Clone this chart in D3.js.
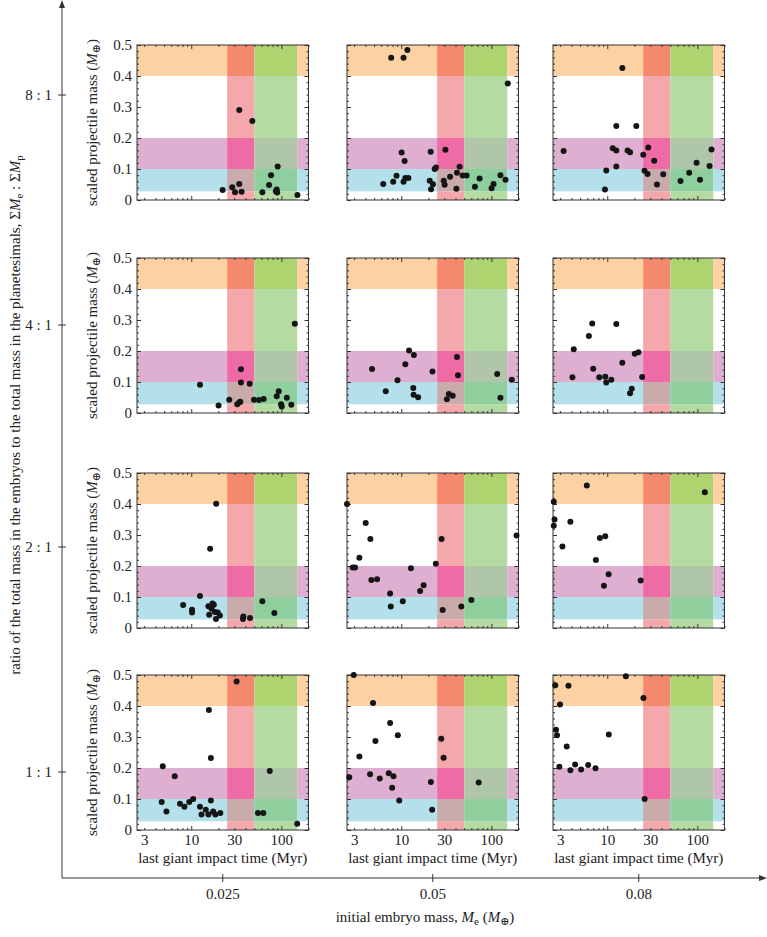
<!DOCTYPE html>
<html><head><meta charset="utf-8">
<script src="https://cdn.jsdelivr.net/npm/d3@7"></script>
<style>
body{margin:0;background:#fff}
svg{display:block}
text{font-family:"Liberation Serif","DejaVu Serif",serif;fill:#222}
</style>
</head><body><svg id="c" width="767" height="937"></svg>
<script>
// ---------- data ----------
const rowLabels = ["8 : 1", "4 : 1", "2 : 1", "1 : 1"];
const colLabels = ["0.025", "0.05", "0.08"];
const xTickLabels = [3, 10, 30, 100];
const xMajorTicks = [10, 100];
const xMinorTicks = [3, 4, 5, 6, 7, 8, 9, 20, 30, 40, 50, 60, 70, 80, 90, 200];
const yTickValues = [0, 0.1, 0.2, 0.3, 0.4, 0.5];
const yMinorTicks = [0.02, 0.04, 0.06, 0.08, 0.12, 0.14, 0.16, 0.18, 0.22, 0.24, 0.26, 0.28, 0.32, 0.34, 0.36, 0.38, 0.42, 0.44, 0.46, 0.48];
// horizontal (projectile mass) bands and vertical (impact time) bands
const hBands = [[0, 0.028, "none"], [0.028, 0.1, "cyan"], [0.1, 0.2, "magenta"], [0.2, 0.4, "none"], [0.4, 0.5, "orange"]];
const vBands = [[2.5, 25, "none"], [25, 50, "red"], [50, 150, "green"], [150, 200, "none"]];
const bandColors = {
  "none|none": null, "none|red": "#f5a8ac", "none|green": "#b4dba2",
  "cyan|none": "#b3e0eb", "cyan|red": "#c9abab", "cyan|green": "#8ecf9d",
  "magenta|none": "#dfafd1", "magenta|red": "#ee6ba6", "magenta|green": "#afc6a8",
  "orange|none": "#fdd1a4", "orange|red": "#f5896e", "orange|green": "#aed46f"
};

// [last giant impact time (Myr), scaled projectile mass]
const p8_025 = [[22.3,0.032],[28.5,0.041],[30.6,0.025],[34.1,0.052],[36.2,0.027],[34.1,0.290],[47.6,0.255],[61.5,0.025],[73,0.048],[76.8,0.080],[91,0.108],[88.7,0.034],[89.9,0.024],[87,0.028],[150.8,0.016]];
const p8_05 = [[7.73,0.459],[10.6,0.459],[11.7,0.484],[152,0.376],[10.1,0.153],[10.9,0.126],[21.2,0.156],[30.9,0.162],[8.86,0.078],[8.14,0.059],[6.31,0.052],[10.6,0.059],[11.1,0.071],[12.0,0.071],[20.7,0.062],[22.5,0.051],[21.4,0.035],[23.5,0.100],[24.3,0.105],[29.6,0.062],[30.3,0.049],[34.8,0.075],[40.9,0.036],[41.5,0.088],[44.4,0.107],[48,0.079],[53.1,0.079],[65.7,0.043],[74,0.069],[100.5,0.038],[105.7,0.052],[126,0.080],[143.5,0.065]];
const p8_08 = [[14.7,0.426],[12.6,0.239],[21.0,0.239],[3.28,0.158],[11.5,0.167],[12.6,0.160],[16.8,0.160],[17.9,0.154],[25.1,0.146],[28.5,0.169],[33.2,0.127],[12.6,0.108],[9.75,0.095],[25.9,0.094],[28,0.084],[41.8,0.083],[35.6,0.050],[9.43,0.034],[65,0.061],[81.1,0.088],[98,0.120],[107,0.065],[136.5,0.110],[143.5,0.163]];
const p4_025 = [[12.5,0.091],[20.1,0.024],[26.4,0.043],[32.4,0.028],[34.1,0.034],[35,0.036],[35.6,0.141],[35.6,0.098],[44.5,0.094],[49.7,0.043],[56.5,0.042],[63.6,0.045],[88.8,0.054],[93.5,0.070],[99.2,0.028],[101,0.021],[115,0.049],[129,0.027],[141,0.288]];
const p4_05 = [[4.74,0.142],[6.73,0.070],[9.08,0.106],[11.1,0.157],[12.2,0.202],[13.8,0.187],[13.6,0.081],[13.7,0.059],[15.4,0.051],[22.2,0.134],[32.1,0.044],[33.8,0.061],[37.2,0.056],[41.5,0.181],[42.6,0.122],[116,0.126],[126,0.049],[168.6,0.107]];
const p4_08 = [[4.25,0.206],[4.11,0.115],[6.25,0.248],[6.81,0.289],[6.98,0.143],[8.15,0.115],[9.5,0.117],[9.75,0.098],[11.1,0.107],[12.6,0.287],[14.7,0.162],[17.9,0.064],[18.7,0.078],[20.2,0.191],[22.2,0.196],[24.4,0.116]];
const p2_025 = [[8.13,0.074],[10.2,0.059],[10.2,0.050],[12.5,0.103],[15.5,0.070],[15.8,0.043],[16.2,0.256],[16.8,0.062],[17.2,0.079],[17.8,0.075],[18.9,0.401],[18.3,0.052],[18.8,0.029],[19.7,0.050],[20.8,0.040],[37.8,0.037],[37.5,0.029],[44.9,0.032],[61.5,0.086],[83.6,0.048]];
const p2_05 = [[2.5,0.400],[4.03,0.339],[4.54,0.287],[3.43,0.227],[2.89,0.195],[3.07,0.195],[4.66,0.155],[5.39,0.157],[7.52,0.111],[7.65,0.069],[10.4,0.086],[12.8,0.193],[16.2,0.119],[17.7,0.138],[24.2,0.207],[28.0,0.287],[28.8,0.058],[46.4,0.069],[60,0.090],[190,0.298]];
const p2_08 = [[5.93,0.460],[121,0.438],[2.55,0.407],[2.6,0.350],[2.55,0.330],[3.90,0.343],[3.18,0.263],[8.28,0.290],[9.5,0.296],[7.48,0.219],[10.35,0.173],[9.18,0.136],[23.5,0.153]];
const p1_025 = [[31.9,0.479],[15.7,0.387],[16.5,0.232],[4.83,0.206],[6.56,0.173],[74.3,0.190],[4.7,0.09],[5.3,0.06],[7.5,0.085],[8.4,0.075],[9.5,0.09],[10.5,0.1],[12.5,0.075],[13,0.05],[14.5,0.065],[15.5,0.05],[16.5,0.095],[17.5,0.06],[18.5,0.05],[21,0.055],[55,0.055],[63,0.055],[150,0.02]];
const p1_05 = [[2.97,0.5],[4.86,0.410],[7.52,0.345],[9.16,0.306],[5.17,0.287],[3.43,0.237],[27.8,0.294],[29.5,0.233],[2.65,0.170],[4.51,0.180],[5.77,0.166],[7.27,0.183],[8.2,0.173],[21.3,0.155],[72.3,0.153],[7.92,0.136],[9.5,0.095],[22,0.065]];
const p1_08 = [[16.1,0.496],[2.65,0.467],[3.71,0.465],[2.99,0.405],[25.2,0.426],[2.70,0.323],[2.77,0.306],[3.55,0.269],[10.4,0.308],[2.94,0.204],[3.90,0.193],[4.40,0.211],[5.13,0.195],[6.14,0.21],[7.41,0.199],[26,0.1]];

const panels = [
  [p8_025, p8_05, p8_08],
  [p4_025, p4_05, p4_08],
  [p2_025, p2_05, p2_08],
  [p1_025, p1_05, p1_08]
];

// ---------- layout ----------
const svg = d3.select("#c");
const colX = [137, 347, 553];
const rowY = [45, 258, 473, 675];
const pw = 171.5, ph = 155;
const axisX = 62, axisY = 878;
const rowTickY = [95, 325, 547, 772];
const colCenters = colX.map(x => x + pw / 2);

const x = d3.scaleLog().domain([2.5, 200]).range([0, pw]);
const y = d3.scaleLinear().domain([0, 0.5]).range([ph, 0]);

panels.forEach((row, ri) => {
  row.forEach((pts, ci) => {
    const g = svg.append("g").attr("transform", `translate(${colX[ci]},${rowY[ri]})`);
    // bands
    hBands.forEach(h => {
      vBands.forEach(v => {
        const col = bandColors[h[2] + "|" + v[2]];
        if (!col) return;
        g.append("rect")
          .attr("x", x(v[0])).attr("width", x(v[1]) - x(v[0]))
          .attr("y", y(h[1])).attr("height", y(h[0]) - y(h[1]))
          .attr("fill", col);
      });
    });
    // ticks
    const tickStyle = s => { s.select(".domain").remove(); s.selectAll("line").attr("stroke", "#333"); };
    g.append("g").attr("transform", `translate(0,${ph})`)
      .call(d3.axisBottom(x).tickValues(xMajorTicks).tickSize(-4).tickFormat("")).call(tickStyle);
    g.append("g").attr("transform", `translate(0,${ph})`)
      .call(d3.axisBottom(x).tickValues(xMinorTicks).tickSize(-2).tickFormat("")).call(tickStyle);
    g.append("g")
      .call(d3.axisTop(x).tickValues(xMajorTicks).tickSize(-4).tickFormat("")).call(tickStyle);
    g.append("g")
      .call(d3.axisTop(x).tickValues(xMinorTicks).tickSize(-2).tickFormat("")).call(tickStyle);
    const yl = g.append("g")
      .call(d3.axisLeft(y).tickValues(yTickValues).tickSize(-4).tickPadding(5)
        .tickFormat(ci === 0 ? (d => d === 0 ? "0" : d3.format(".1f")(d)) : ""))
      .call(tickStyle);
    yl.selectAll("text").style("font-size", "15px").attr("fill", "#222");
    g.append("g")
      .call(d3.axisLeft(y).tickValues(yMinorTicks).tickSize(-2).tickFormat("")).call(tickStyle);
    g.append("g").attr("transform", `translate(${pw},0)`)
      .call(d3.axisRight(y).tickValues(yTickValues).tickSize(-4).tickFormat("")).call(tickStyle);
    g.append("g").attr("transform", `translate(${pw},0)`)
      .call(d3.axisRight(y).tickValues(yMinorTicks).tickSize(-2).tickFormat("")).call(tickStyle);
    // frame
    g.append("rect").attr("width", pw).attr("height", ph)
      .attr("fill", "none").attr("stroke", "#333").attr("stroke-width", 1);
    // points
    g.selectAll("circle").data(pts).join("circle")
      .attr("cx", d => x(d[0])).attr("cy", d => y(d[1])).attr("r", 3)
      .attr("fill", "#151515");
    // y label
    if (ci === 0) {
      const t = g.append("text")
        .attr("transform", `translate(-40,${ph / 2}) rotate(-90)`)
        .attr("text-anchor", "middle").style("font-size", "15px");
      t.append("tspan").text("scaled projectile mass (");
      t.append("tspan").style("font-style", "italic").text("M");
      t.append("tspan").attr("dy", 3).style("font-size", "11px").text("⊕");
      t.append("tspan").attr("dy", -3).text(")");
    }
    // x labels in bottom row
    if (ri === 3) {
      const xl = g.append("g").attr("transform", `translate(0,${ph})`)
        .call(d3.axisBottom(x).tickValues(xTickLabels).tickSize(0).tickPadding(4).tickFormat(d3.format("d")));
      xl.select(".domain").remove();
      xl.selectAll("text").style("font-size", "15px").attr("fill", "#222");
      g.append("text").attr("x", pw / 2).attr("y", ph + 33)
        .attr("text-anchor", "middle").style("font-size", "15px")
        .text("last giant impact time (Myr)");
    }
  });
});

// ---------- outer axes ----------
const ax = svg.append("g").attr("stroke", "#333").attr("fill", "none");
ax.append("line").attr("x1", axisX).attr("x2", axisX).attr("y1", 4).attr("y2", axisY);
ax.append("line").attr("x1", axisX).attr("x2", 762).attr("y1", axisY).attr("y2", axisY);
svg.append("path").attr("d", `M${axisX},0 L${axisX - 3},8 L${axisX + 3},8 Z`).attr("fill", "#333");
svg.append("path").attr("d", `M767,${axisY} L759,${axisY - 3} L759,${axisY + 3} Z`).attr("fill", "#333");

rowLabels.forEach((lab, i) => {
  ax.append("line").attr("x1", axisX - 4).attr("x2", axisX + 4).attr("y1", rowTickY[i]).attr("y2", rowTickY[i]);
  svg.append("text").attr("x", axisX - 10).attr("y", rowTickY[i] + 5)
    .attr("text-anchor", "end").style("font-size", "15px").text(lab);
});
colLabels.forEach((lab, i) => {
  ax.append("line").attr("x1", colCenters[i]).attr("x2", colCenters[i]).attr("y1", axisY - 4).attr("y2", axisY + 4);
  svg.append("text").attr("x", colCenters[i]).attr("y", axisY + 21)
    .attr("text-anchor", "middle").style("font-size", "15px").text(lab);
});

// left title
const lt = svg.append("text").attr("transform", `translate(20,415) rotate(-90)`)
  .attr("text-anchor", "middle").style("font-size", "15px");
lt.append("tspan").text("ratio of the total mass in the embryos to the total mass in the planetesimals, Σ");
lt.append("tspan").style("font-style", "italic").text("M");
lt.append("tspan").attr("dy", 3).style("font-size", "11px").text("e");
lt.append("tspan").attr("dy", -3).text(" : Σ");
lt.append("tspan").style("font-style", "italic").text("M");
lt.append("tspan").attr("dy", 3).style("font-size", "11px").text("p");

// bottom title
const bt = svg.append("text").attr("x", 425).attr("y", axisY + 44)
  .attr("text-anchor", "middle").style("font-size", "15px");
bt.append("tspan").text("initial embryo mass, ");
bt.append("tspan").style("font-style", "italic").text("M");
bt.append("tspan").attr("dy", 3).style("font-size", "11px").text("e");
bt.append("tspan").attr("dy", -3).text(" (");
bt.append("tspan").style("font-style", "italic").text("M");
bt.append("tspan").attr("dy", 3).style("font-size", "11px").text("⊕");
bt.append("tspan").attr("dy", -3).text(")");
</script>
</body></html>
